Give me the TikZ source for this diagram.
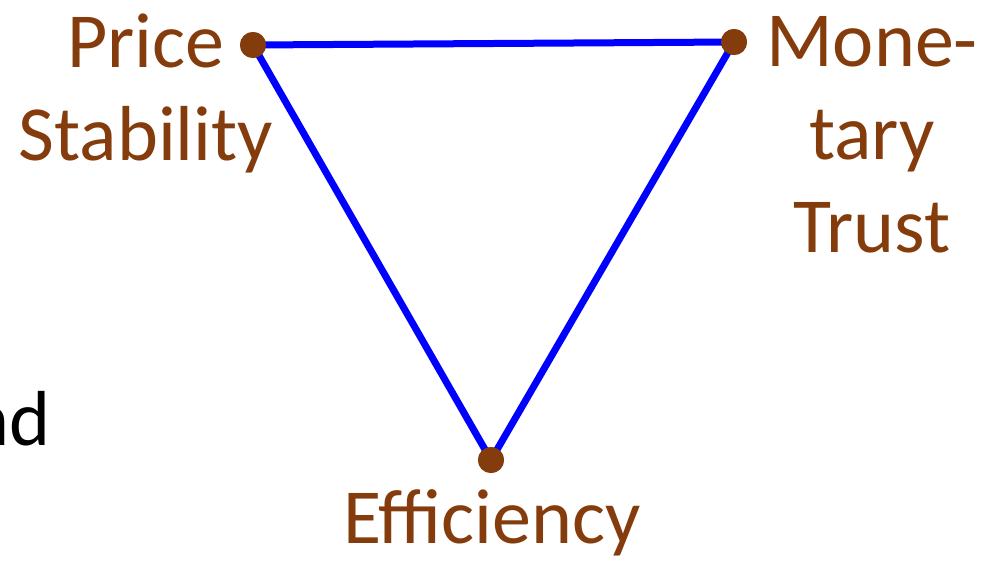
\documentclass[tikz,border=0pt]{standalone}
\usepackage{fontspec}
\setmainfont{Carlito}
\usetikzlibrary{positioning}
\definecolor{brownlabel}{HTML}{843C0C}
\begin{document}
\begin{tikzpicture}[
  x=1pt, y=-1pt,
  edge/.style={draw=blue, line width=7pt},
  corner/.style={circle, fill=brownlabel, minimum size=26pt, inner sep=0pt},
  label/.style={text=brownlabel, align=center, inner sep=0pt, font=\fontsize{78}{93}\selectfont}
]
  \useasboundingbox (0,0) rectangle (994,562);

  % Ecken des Dreiecks
  \node[corner] (price) at (253,45) {};
  \node[corner] (trust) at (734,42) {};
  \node[corner] (eff) at (491,460) {};

  % Seiten
  \draw[edge] (price.center) -- (trust.center);
  \draw[edge] (trust.center) -- (eff.center);
  \draw[edge] (eff.center) -- (price.center);
  \node[corner] at (price) {};
  \node[corner] at (trust) {};
  \node[corner] at (eff) {};

  % Beschriftungen
  \node[label, anchor=north] (pricelabel) at (146,14) {Price\\Stability};
  \node[label, anchor=north] (trustlabel) at (872,16) {Mone-\\tary\\Trust};
  \node[label, anchor=base] (efflabel) at (492,543) {Efficiency};
  \node[inner sep=0pt, anchor=base east, font=\fontsize{78}{93}\selectfont] (andtext) at (51,445) {and};
\end{tikzpicture}
\end{document}
